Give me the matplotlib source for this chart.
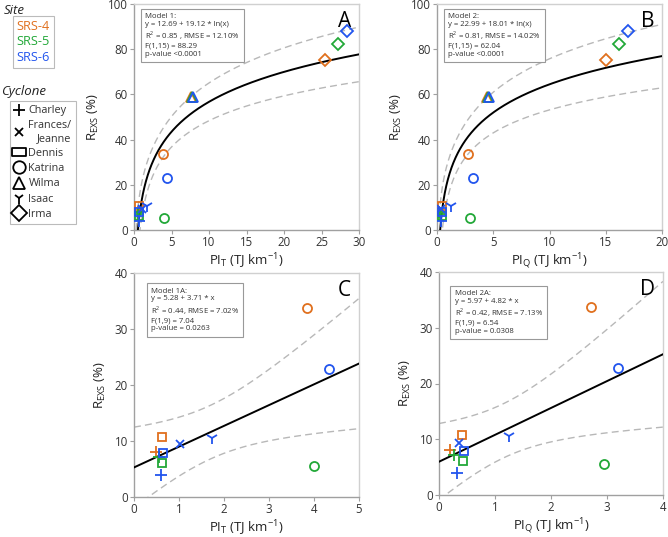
import numpy as np
import matplotlib
matplotlib.use("Agg")
import matplotlib.pyplot as plt
from matplotlib.lines import Line2D
from matplotlib.path import Path

plt.rcParams['font.family'] = ['Open Sans', 'DejaVu Sans']
plt.rcParams['mathtext.fontset'] = 'custom'
plt.rcParams['mathtext.rm'] = 'Open Sans'

# ---------------- data ----------------
sites = ["SRS-4", "SRS-5", "SRS-6"]
site_colors = ["#E0701E", "#22A838", "#2255EE"]
cyclones = ["Charley", "Frances/\nJeanne", "Dennis", "Katrina", "Wilma", "Isaac", "Irma"]

# records: (site index, cyclone index, PI_T, PI_Q, R_EXS)
rec_site = [0, 0, 0, 0, 0,
            1, 1, 1, 1, 1,
            2, 2, 2, 2, 2, 2, 2]
rec_cyc = [0, 2, 3, 4, 6,
           0, 2, 3, 4, 6,
           0, 1, 2, 3, 4, 5, 6]
pi_t = [0.49, 0.62, 3.85, 7.6, 25.5,
        0.56, 0.63, 4.00, 7.7, 27.2,
        0.60, 1.02, 0.65, 4.34, 7.8, 1.73, 28.4]
pi_q = [0.19, 0.41, 2.72, 4.45, 15.0,
        0.27, 0.42, 2.94, 4.55, 16.2,
        0.32, 0.36, 0.44, 3.20, 4.65, 1.25, 16.95]
r_exs = [8.0, 10.7, 33.7, 59.0, 75.0,
         7.2, 6.1, 5.5, 59.0, 82.5,
         3.9, 9.4, 7.9, 22.8, 59.0, 10.5, 88.0]

# model coefficients (from the figure)
m1 = dict(a=12.69, b=19.12, rmse=12.10, t=2.131)
m2 = dict(a=22.99, b=18.01, rmse=14.02, t=2.131)
m1a = dict(a=5.28, b=3.71, rmse=7.02, t=2.262)
m2a = dict(a=5.97, b=4.82, rmse=7.13, t=2.262)

box1 = "Model 1:\ny = 12.69 + 19.12 * ln(x)\nR$^2$ = 0.85 , RMSE = 12.10%\nF(1,15) = 88.29\np-value <0.0001"
box2 = "Model 2:\ny = 22.99 + 18.01 * ln(x)\nR$^2$ = 0.81, RMSE = 14.02%\nF(1,15) = 62.04\np-value <0.0001"
box1a = "Model 1A:\ny = 5.28 + 3.71 * x\nR$^2$ = 0.44, RMSE = 7.02%\nF(1,9) = 7.04\np-value = 0.0263"
box2a = "Model 2A:\ny = 5.97 + 4.82 * x\nR$^2$ = 0.42, RMSE = 7.13%\nF(1,9) = 6.54\np-value = 0.0308"

# ---------------- styles ----------------
rect = Path([(-1, -0.62), (1, -0.62), (1, 0.62), (-1, 0.62), (-1, -0.62)],
            [Path.MOVETO, Path.LINETO, Path.LINETO, Path.LINETO, Path.CLOSEPOLY])
cyc_markers = ['+', 'x', 's', 'o', '^', '1', 'D']
cyc_ms = [8, 6, 6, 6.5, 7.5, 9, 6]
leg_markers = ['+', 'x', rect, 'o', '^', '1', 'D']

fig = plt.figure(figsize=(6.68, 5.37), dpi=100)
W, H = 668, 537

def add_ax(x0, y0, x1, y1):
    return fig.add_axes([x0 / W, 1 - y1 / H, (x1 - x0) / W, (y1 - y0) / H])

axA = add_ax(134, 4, 359, 230)
axB = add_ax(437, 4, 662, 230)
axC = add_ax(134, 273, 359, 497)
axD = add_ax(439, 272, 663, 495)

def style(ax, xlim, ylim, xt, yt, xlabel, letter):
    ax.set_xlim(xlim)
    ax.set_ylim(ylim)
    ax.set_xticks(xt)
    ax.set_yticks(yt)
    for s in ['top', 'right']:
        ax.spines[s].set_color('#d0d0d0')
    for s in ['left', 'bottom']:
        ax.spines[s].set_color('#a0a0a0')
    for s in ax.spines.values():
        s.set_linewidth(1.0)
    ax.tick_params(length=3, width=0.8, color='#a0a0a0', labelsize=8.3,
                   labelcolor='#333333', pad=1.5)
    ax.set_ylabel(r'R$_{\mathregular{EXS}}$ (%)', fontsize=9.5, color='#222222', labelpad=5)
    ax.set_xlabel(xlabel, fontsize=9.5, color='#222222', labelpad=1.5)
    ax.text(0.965, 0.97, letter, transform=ax.transAxes, ha='right', va='top',
            fontsize=15, color='black')

def points(ax, xs, sel):
    for si in range(3):
        for i in range(len(rec_site)):
            if rec_site[i] != si or not sel(i):
                continue
            c = rec_cyc[i]
            m = cyc_markers[c]
            filled = m in ['+', 'x', '1']
            ax.plot(xs[i], r_exs[i], linestyle='none', marker=m, ms=cyc_ms[c],
                    mec=site_colors[si], mfc='none' if not filled else site_colors[si],
                    mew=1.3, zorder=4)

def log_model(ax, xs_data, m, xmax):
    lx = np.log(np.array(xs_data))
    n = len(lx)
    mlx = lx.mean()
    sxx = ((lx - mlx) ** 2).sum()
    x = np.linspace(0.2, xmax, 600)
    l = np.log(x)
    y = m['a'] + m['b'] * l
    hw = m['t'] * m['rmse'] * np.sqrt(1 / n + (l - mlx) ** 2 / sxx)
    ax.plot(x, y, color='black', lw=1.4, zorder=3)
    ax.plot(x, y + hw, color='#b8b8b8', lw=1.0, ls=(0, (5, 3)), zorder=2)
    ax.plot(x, y - hw, color='#b8b8b8', lw=1.0, ls=(0, (5, 3)), zorder=2)

def lin_model(ax, xs_data, m, xmax):
    xd = np.array(xs_data)
    n = len(xd)
    mx = xd.mean()
    sxx = ((xd - mx) ** 2).sum()
    x = np.linspace(0, xmax, 400)
    y = m['a'] + m['b'] * x
    hw = m['t'] * m['rmse'] * np.sqrt(1 / n + (x - mx) ** 2 / sxx)
    ax.plot(x, y, color='black', lw=1.4, zorder=3)
    ax.plot(x, y + hw, color='#b8b8b8', lw=1.0, ls=(0, (5, 3)), zorder=2)
    ax.plot(x, y - hw, color='#b8b8b8', lw=1.0, ls=(0, (5, 3)), zorder=2)

def textbox(ax, x0, y0, txt):
    ax.text(x0, y0, txt, transform=ax.transAxes, ha='left', va='top', fontsize=5.6,
            color='#333333', linespacing=1.15,
            bbox=dict(boxstyle='square,pad=0.55', fc='white', ec='#999999', lw=0.8),
            zorder=6)

small = [i for i in range(len(rec_cyc)) if rec_cyc[i] not in (4, 6)]

labT = r'PI$_{\mathregular{T}}$ (TJ km$^{\mathregular{-1}}$)'
labQ = r'PI$_{\mathregular{Q}}$ (TJ km$^{\mathregular{-1}}$)'

# A
style(axA, (0, 30), (0, 100), range(0, 31, 5), range(0, 101, 20), labT, 'A')
log_model(axA, pi_t, m1, 30)
points(axA, pi_t, lambda i: True)
textbox(axA, 0.05, 0.96, box1)

# B
style(axB, (0, 20), (0, 100), range(0, 21, 5), range(0, 101, 20), labQ, 'B')
log_model(axB, pi_q, m2, 20)
points(axB, pi_q, lambda i: True)
textbox(axB, 0.05, 0.96, box2)

# C
style(axC, (0, 5), (0, 40), range(0, 6), range(0, 41, 10), labT, 'C')
lin_model(axC, [pi_t[i] for i in small], m1a, 5)
points(axC, pi_t, lambda i: i in small)
textbox(axC, 0.075, 0.935, box1a)

# D
style(axD, (0, 4), (0, 40), range(0, 5), range(0, 41, 10), labQ, 'D')
lin_model(axD, [pi_q[i] for i in small], m2a, 4)
points(axD, pi_q, lambda i: i in small)
textbox(axD, 0.07, 0.92, box2a)

# ---------------- legends ----------------
fig.text(4 / W, 1 - 11 / H, 'Site', fontsize=9.5, style='italic', ha='left', va='center',
         color='#222222')
site_handles = [Line2D([], [], linestyle='none') for _ in sites]
lg1 = fig.legend(site_handles, sites, loc='upper left',
                 bbox_to_anchor=(13 / W, 1 - 16 / H), frameon=True, fancybox=False,
                 handlelength=0, handletextpad=0, borderpad=0.3, labelspacing=0.2,
                 borderaxespad=0, fontsize=9.2, edgecolor='#aaaaaa')
lg1.get_frame().set_linewidth(0.8)
for t, c in zip(lg1.get_texts(), site_colors):
    t.set_color(c)

fig.text(1 / W, 1 - 92 / H, 'Cyclone', fontsize=9.5, style='italic', ha='left', va='center',
         color='#222222')
cyc_handles = [Line2D([], [], linestyle='none', marker=m, ms=ms, mec='black',
                      mfc='none' if m not in ['+', 'x', '1'] else 'black', mew=1.3)
               for m, ms in zip(leg_markers, [9, 6, 10, 9, 9, 8, 8])]
lg2 = fig.legend(cyc_handles, cyclones, loc='upper left',
                 bbox_to_anchor=(10 / W, 1 - 101 / H), frameon=True, fancybox=False,
                 handlelength=0.9, handletextpad=0.4, borderpad=0.4, labelspacing=0.38,
                 borderaxespad=0, fontsize=7.8, edgecolor='#aaaaaa', markerscale=1.0)
lg2.get_frame().set_linewidth(0.8)
for t in lg2.get_texts():
    t.set_color('#333333')
    t.set_multialignment('right')

fig.savefig('out.png', dpi=100)
